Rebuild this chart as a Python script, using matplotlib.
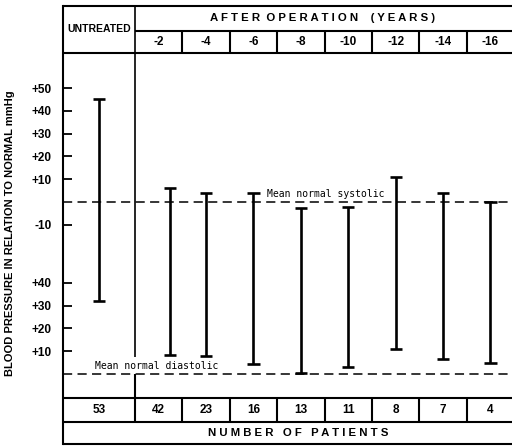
import matplotlib.pyplot as plt
import numpy as np

groups = ['UNTREATED', '-2', '-4', '-6', '-8', '-10', '-12', '-14', '-16']
patients = [53, 42, 23, 16, 13, 11, 8, 7, 4]
# top end of each bar: systolic pressure in relation to normal (mmHg)
systolic_top = [45, 6, 4, 4, -2.5, -2, 11, 4, 0]
# bottom end of each bar: diastolic pressure in relation to normal (mmHg)
diastolic_bottom = [32, 8.5, 8, 4.5, 0.5, 3, 11, 6.5, 5]

sys_ticks = [50, 40, 30, 20, 10, -10]
dia_ticks = [40, 30, 20, 10]

# layout (x: one unit per column, y: mmHg on the systolic scale)
DIA = -75.4          # diastolic zero drawn this far below systolic zero
X_LEFT, X_RIGHT = -2.348, 8.454
BOX_L = -1.02
HEAD_TOP, HEAD_MID, HEAD_BOT = 86.0, 75.0, 65.4
FOOT_1, FOOT_2, FOOT_BOT = -86.0, -96.5, -106.1
edges = [BOX_L] + [0.5 + i for i in range(9)]
centers = [(edges[i] + edges[i + 1]) / 2 for i in range(9)]
bar_shift = [0, 0.24, 0, 0, 0, 0, 0, 0, 0]

bold = dict(family=['Liberation Sans Narrow', 'Liberation Sans', 'DejaVu Sans'],
            fontweight='bold')

fig = plt.figure(figsize=(5.12, 4.46), dpi=100)
ax = fig.add_axes([0, 0, 1, 1])
ax.set_xlim(X_LEFT, X_RIGHT)
ax.set_ylim(-107.0, 88.6)

for s in ['top', 'right', 'bottom']:
    ax.spines[s].set_visible(False)
ax.spines['left'].set_position(('data', BOX_L))
ax.spines['left'].set_bounds(FOOT_BOT, HEAD_TOP)
ax.spines['left'].set_linewidth(1.5)
ax.set_xticks([])

ytick_pos = sys_ticks + [d + DIA for d in dia_ticks]
ytick_lab = ['%+d' % t for t in sys_ticks] + ['%+d' % t for t in dia_ticks]
ax.set_yticks(ytick_pos, labels=ytick_lab, fontsize=8.5, **bold)
ax.tick_params(axis='y', direction='in', length=6.5, width=1.3, pad=8)

ax.set_ylabel('BLOOD PRESSURE IN RELATION TO NORMAL mmHg', fontsize=8, **bold)
ax.yaxis.set_label_coords(15 / 512, (446 - 233) / 446)

# table frame
lw = 1.5
ax.hlines(HEAD_TOP, BOX_L, X_RIGHT, colors='k', lw=lw)
ax.hlines(HEAD_MID, 0.5, X_RIGHT, colors='k', lw=lw)
ax.hlines(HEAD_BOT, BOX_L, X_RIGHT, colors='k', lw=lw)
ax.hlines([FOOT_1, FOOT_2, FOOT_BOT], BOX_L, X_RIGHT, colors='k', lw=lw)
ax.vlines(0.5, -68, HEAD_TOP, colors='k', lw=1.2)
ax.vlines(0.5, FOOT_2, DIA, colors='k', lw=lw)
ax.vlines(edges[2:-1], HEAD_BOT, HEAD_MID, colors='k', lw=lw)
ax.vlines(edges[2:-1], FOOT_2, FOOT_1, colors='k', lw=lw)

# mean normal lines
ax.hlines([0, DIA], BOX_L, X_RIGHT, colors='k', lw=1.1, linestyles=(0, (6, 3.5)))
mono = dict(family='DejaVu Sans Mono', fontsize=7)
ax.text(3.285, 1.2, 'Mean normal systolic', ha='left', va='bottom', **mono)
ax.text(-0.344, DIA + 1.5, 'Mean normal diastolic', ha='left', va='bottom', **mono)

# range bars
bx = np.array(centers) + np.array(bar_shift)
top = np.array(systolic_top)
bot = np.array(diastolic_bottom) + DIA
ax.vlines(bx, bot, top, colors='k', lw=1.9)
ax.hlines(top, bx - 0.127, bx + 0.127, colors='k', lw=1.9)
ax.hlines(bot, bx - 0.127, bx + 0.127, colors='k', lw=1.9)

# header / footer text
ax.text(centers[0], (HEAD_TOP + HEAD_BOT) / 2, groups[0], ha='center', va='center',
        fontsize=7.5, **bold)
ax.text(4.45, (HEAD_TOP + HEAD_MID) / 2, 'A F T E R  O P E R A T I O N    ( Y E A R S )',
        ha='center', va='center', fontsize=8.2, **bold)
for c, g in zip(centers[1:], groups[1:]):
    ax.text(c, (HEAD_MID + HEAD_BOT) / 2, g, ha='center', va='center', fontsize=8.5, **bold)
for c, n in zip(centers, patients):
    ax.text(c, (FOOT_1 + FOOT_2) / 2, str(n), ha='center', va='center', fontsize=8.5, **bold)
ax.text(3.94, (FOOT_2 + FOOT_BOT) / 2, 'N U M B E R   O F   P A T I E N T S',
        ha='center', va='center', fontsize=8.2, **bold)

fig.savefig('out.png', dpi=100)
